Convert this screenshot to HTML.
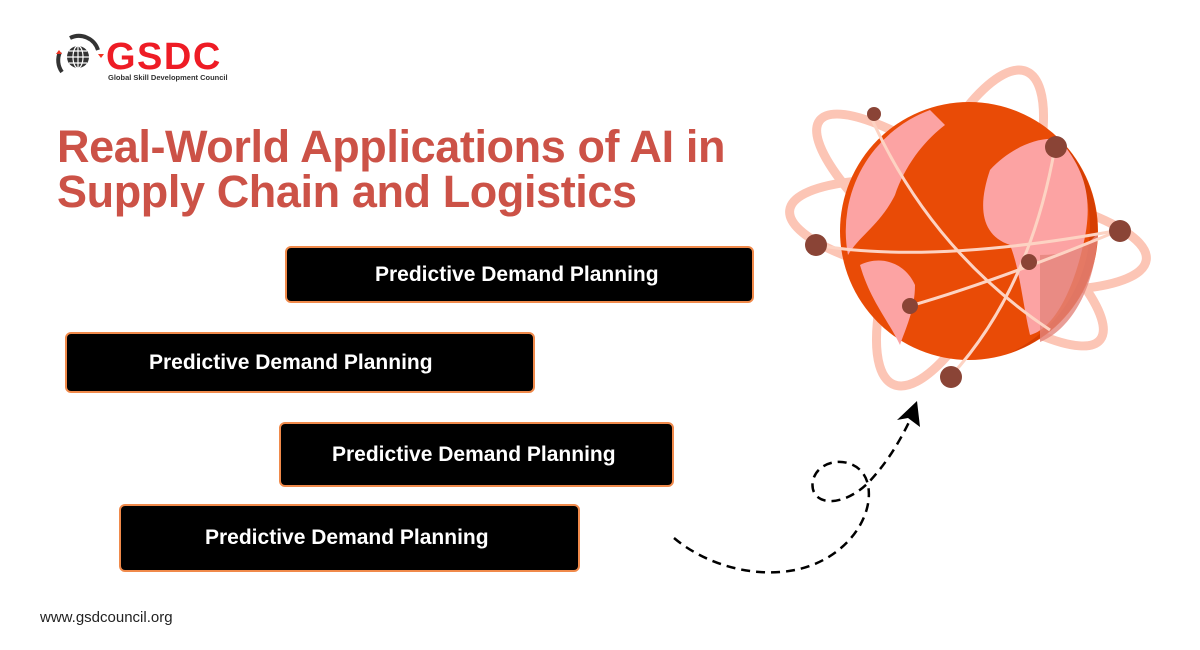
<!DOCTYPE html>
<html><head><meta charset="utf-8"><style>
body{margin:0;width:1200px;height:650px;background:#fff;position:relative;overflow:hidden;font-family:"Liberation Sans",sans-serif}
.t{position:absolute;left:57px;color:#cc5247;font-weight:bold;font-size:45px;line-height:46px;letter-spacing:-0.4px}
.b{position:absolute;background:#000;border:2px solid #f08a4b;border-radius:6px;color:#fff;font-weight:bold;font-size:21px;box-sizing:border-box;display:flex;align-items:center}
</style></head><body>
<svg style="position:absolute;left:0;top:0" width="1200" height="650">
<circle cx="78" cy="57" r="11" fill="#333"/>
<g stroke="#fff" stroke-width="1.2" fill="none"><line x1="67" y1="57" x2="89" y2="57"/><line x1="78" y1="46" x2="78" y2="68"/><ellipse cx="78" cy="57" rx="5" ry="11"/><line x1="69" y1="51" x2="87" y2="51"/><line x1="69" y1="63" x2="87" y2="63"/></g>
<path d="M70 38 A20 20 0 0 1 98 50" stroke="#333" stroke-width="4" fill="none"/>
<path d="M62 72 A20 20 0 0 1 60 52" stroke="#333" stroke-width="4" fill="none"/>
<path d="M59 50 l-3 4 h6z M101 58 l-3 -4 h6z" fill="#e32"/>
<text x="106" y="69" font-family="Liberation Sans" font-weight="bold" font-size="38" fill="#ee1c25" letter-spacing="1.5">GSDC</text>
<text x="108" y="80" font-family="Liberation Sans" font-weight="bold" font-size="7.5" fill="#333">Global Skill Development Council</text>
<!-- globe -->
<g fill="none" stroke="#fcc5b5" stroke-width="9">
<ellipse cx="968" cy="235" rx="180" ry="50" transform="rotate(8 968 235)"/>
<ellipse cx="960" cy="230" rx="178" ry="48" transform="rotate(38 960 230)"/>
<ellipse cx="960" cy="228" rx="170" ry="55" transform="rotate(-67 960 228)"/>
</g>
<circle cx="969" cy="231" r="129" fill="#e94b06"/>
<path d="M1060 140 A129 129 0 0 1 1010 353 A140 140 0 0 0 1060 140z" fill="#d63e02"/>
<path d="M930 110 L945 125 C925 140 905 165 895 195 C880 225 860 235 848 255 A129 129 0 0 1 930 110z" fill="#fca3a3"/>
<path d="M860 265 C880 255 905 262 915 285 C915 310 905 330 900 345 C888 320 870 300 860 265z" fill="#fca3a3"/>
<path d="M990 170 C1010 148 1040 135 1060 140 C1085 170 1095 200 1082 250 C1070 300 1050 330 1030 335 C1022 300 1020 270 1010 245 C980 235 978 205 990 170z" fill="#fca3a3"/>
<path d="M1040 255 C1070 255 1090 245 1098 232 C1095 290 1070 330 1040 342z" fill="#e3847c" opacity=".8"/>
<g fill="none" stroke="#fdd3c3" stroke-width="3">
<path d="M816 245 Q930 265 1120 230"/>
<path d="M870 115 Q930 250 1050 330"/>
<path d="M910 306 Q1000 280 1120 230"/>
<path d="M1055 147 Q1030 290 950 377"/>
</g>
<g fill="#8a4436"><circle cx="874" cy="114" r="7"/><circle cx="1056" cy="147" r="11"/><circle cx="816" cy="245" r="11"/><circle cx="1120" cy="231" r="11"/><circle cx="1029" cy="262" r="8"/><circle cx="910" cy="306" r="8"/><circle cx="951" cy="377" r="11"/></g>
<!-- dashed arrow -->
<path d="M674 538 C700 560 740 575 780 572 C840 568 875 520 868 485 C862 455 820 455 813 480 C808 505 840 510 868 483 C885 465 898 445 910 420" fill="none" stroke="#000" stroke-width="2.5" stroke-dasharray="9 6"/>
<path d="M917 401 L897 420 L908 418 L920 427z" fill="#000"/>
</svg>
<div class="t" style="top:124px">Real-World Applications of AI in</div>
<div class="t" style="top:169px">Supply Chain and Logistics</div>
<div class="b" style="left:285px;top:246px;width:469px;height:57px;padding-left:88px">Predictive Demand Planning</div>
<div class="b" style="left:65px;top:332px;width:470px;height:61px;padding-left:82px">Predictive Demand Planning</div>
<div class="b" style="left:279px;top:422px;width:395px;height:65px;padding-left:51px">Predictive Demand Planning</div>
<div class="b" style="left:119px;top:504px;width:461px;height:68px;padding-left:84px">Predictive Demand Planning</div>
<div style="position:absolute;left:40px;top:609px;font-size:15px;color:#222">www.gsdcouncil.org</div>
</body></html>
